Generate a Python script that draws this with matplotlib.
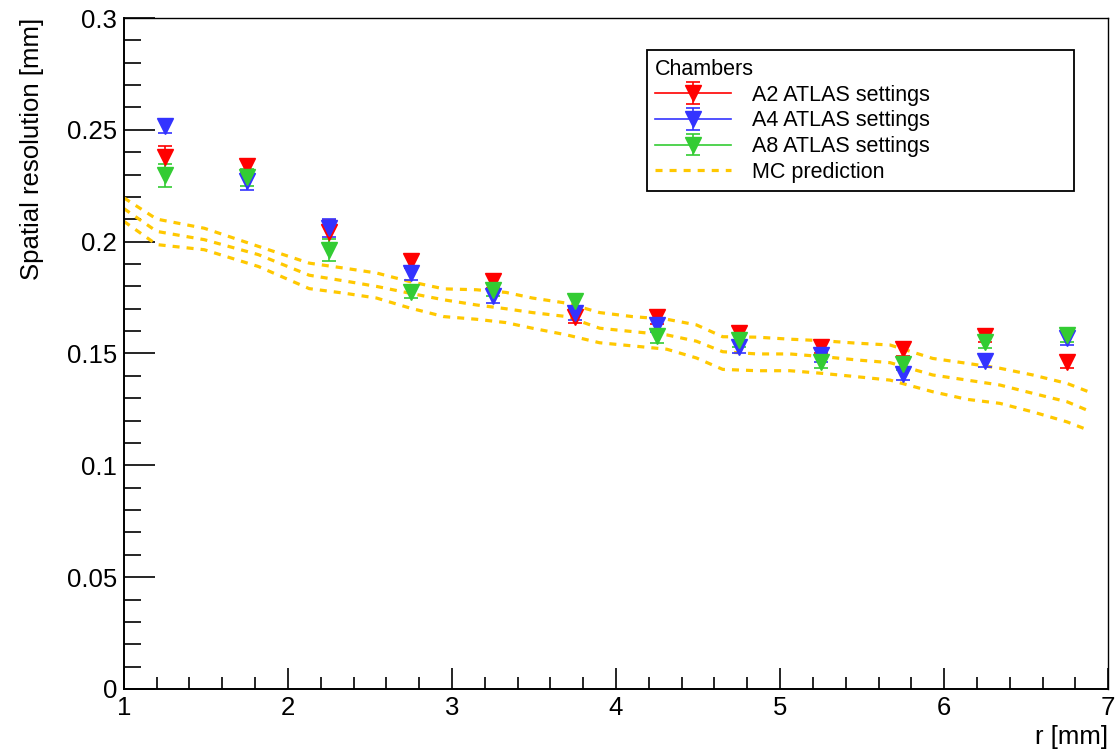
import numpy as np
import matplotlib
matplotlib.use("Agg")
import matplotlib.pyplot as plt
from matplotlib.lines import Line2D

plt.rcParams['font.family'] = ['Liberation Sans', 'DejaVu Sans']

# measured points
r = [1.25, 1.75, 2.25, 2.75, 3.25, 3.75, 4.25, 4.75, 5.25, 5.75, 6.25, 6.75]
a2 = [0.2380, 0.2340, 0.2045, 0.1912, 0.1822, 0.1665, 0.1662, 0.1590, 0.1530, 0.1520, 0.1580, 0.1463]
a2_err = [0.005, 0.003, 0.005, 0.003, 0.003, 0.003, 0.003, 0.003, 0.003, 0.003, 0.003, 0.003]
a4 = [0.2516, 0.2270, 0.2063, 0.1860, 0.1755, 0.1682, 0.1626, 0.1530, 0.1493, 0.1410, 0.1468, 0.1570]
a4_err = [0.003, 0.004, 0.004, 0.003, 0.003, 0.003, 0.003, 0.003, 0.003, 0.003, 0.003, 0.003]
a8 = [0.2296, 0.2287, 0.1964, 0.1777, 0.1785, 0.1735, 0.1576, 0.1560, 0.1463, 0.1455, 0.1553, 0.1583]
a8_err = [0.005, 0.004, 0.005, 0.003, 0.003, 0.003, 0.003, 0.003, 0.003, 0.003, 0.003, 0.003]

# MC prediction (upper, central, lower)
mc_r = [1.00, 1.20, 1.49, 1.82, 2.13, 2.34, 2.54, 2.74, 2.95, 3.15, 3.33, 3.49, 3.70, 3.90,
        4.10, 4.31, 4.49, 4.65, 4.86, 5.06, 5.26, 5.47, 5.67, 5.93, 6.14, 6.34, 6.54, 6.75, 6.88]
mc_up = [0.2196, 0.2101, 0.2060, 0.1979, 0.1904, 0.1882, 0.1860, 0.1822, 0.1789, 0.1785, 0.1773,
         0.1748, 0.1725, 0.1683, 0.1665, 0.1653, 0.1628, 0.1575, 0.1573, 0.1564, 0.1557, 0.1546,
         0.1538, 0.1478, 0.1456, 0.1434, 0.1404, 0.1366, 0.1329]
mc_mid = [0.2148, 0.2046, 0.2009, 0.1942, 0.1850, 0.1825, 0.1800, 0.1770, 0.1740, 0.1717, 0.1700,
          0.1683, 0.1665, 0.1613, 0.1598, 0.1583, 0.1555, 0.1508, 0.1498, 0.1498, 0.1486, 0.1471,
          0.1459, 0.1404, 0.1381, 0.1359, 0.1322, 0.1284, 0.1244]
mc_lo = [0.2091, 0.1987, 0.1964, 0.1889, 0.1790, 0.1770, 0.1748, 0.1704, 0.1665, 0.1653, 0.1638,
         0.1613, 0.1583, 0.1548, 0.1534, 0.1519, 0.1480, 0.1429, 0.1423, 0.1423, 0.1411, 0.1396,
         0.1381, 0.1329, 0.1295, 0.1277, 0.1239, 0.1194, 0.1157]

red = '#ff0000'
blue = '#3333ff'
green = '#33cc33'
orange = '#ffc800'

fig = plt.figure(figsize=(11.16, 7.51), dpi=100)
ax = fig.add_axes([0.111, 0.0826, 0.882, 0.8934])

for y in [mc_up, mc_mid, mc_lo]:
    ax.plot(mc_r, y, color=orange, lw=2.3, dashes=(2.2, 2.2), zorder=2)

handles = []
for vals, errs, c in [(a2, a2_err, red), (a4, a4_err, blue), (a8, a8_err, green)]:
    cont = ax.errorbar(r, vals, yerr=errs, fmt='v', color=c, ms=11, elinewidth=1.2,
                       capsize=5, capthick=1.2, zorder=3)
    handles.append((Line2D([], [], color=c, lw=1.2), cont))
handles.append(Line2D([], [], color=orange, lw=2.3, dashes=(2.2, 2.2)))

ax.set_xlim(1, 7)
ax.set_ylim(0, 0.3)
ax.set_xticks(np.arange(1, 8, 1))
ax.set_xticks(np.arange(1, 7.01, 0.2), minor=True)
ax.set_yticks(np.arange(0, 0.301, 0.05))
ax.set_yticks(np.arange(0, 0.301, 0.01), minor=True)
ax.set_yticklabels(['0', '0.05', '0.1', '0.15', '0.2', '0.25', '0.3'])
ax.tick_params(axis='x', which='major', direction='in', length=15, width=1.2, labelsize=18.5, pad=5, top=False)
ax.tick_params(axis='x', which='minor', direction='in', length=8.4, width=1.2, top=False)
ax.tick_params(axis='y', which='major', direction='in', length=22.3, width=1.2, labelsize=18.5, pad=5, right=False)
ax.tick_params(axis='y', which='minor', direction='in', length=12.2, width=1.2, right=False)
for s in ['left', 'bottom']:
    ax.spines[s].set_linewidth(1.4)
for s in ['top', 'right']:
    ax.spines[s].set_linewidth(1.0)

ax.set_xlabel('r [mm]', fontsize=18.5, loc='right', labelpad=4)
ax.set_ylabel('Spatial resolution [mm]', fontsize=18.5, loc='top', labelpad=16)

leg = ax.legend(handles, ['A2 ATLAS settings', 'A4 ATLAS settings', 'A8 ATLAS settings', 'MC prediction'],
                title='Chambers', alignment='left', loc='upper left',
                bbox_to_anchor=(0.531, 0.741, 0.434, 0.211), mode='expand', borderaxespad=0,
                fontsize=15.5, title_fontsize=15.5, handlelength=3.5, labelspacing=0.22,
                borderpad=0.4, handletextpad=1.0, fancybox=False, framealpha=1, edgecolor='black')
leg.get_frame().set_linewidth(1.3)

fig.savefig('out.png', dpi=100)
